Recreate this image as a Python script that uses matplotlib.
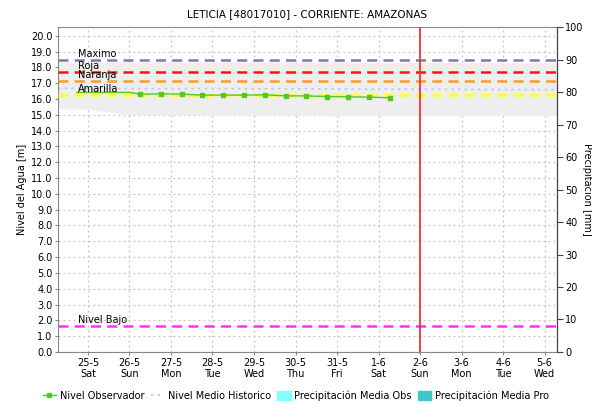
import matplotlib
matplotlib.use('Agg')
import matplotlib.pyplot as plt
from matplotlib.lines import Line2D
from matplotlib.patches import Patch

plt.rcParams['font.family'] = ['DejaVu Sans']
plt.rcParams['font.size'] = 7

# days counted from 25-5
day_labels = ['25-5\nSat', '26-5\nSun', '27-5\nMon', '28-5\nTue', '29-5\nWed', '30-5\nThu',
              '31-5\nFri', '1-6\nSat', '2-6\nSun', '3-6\nMon', '4-6\nTue', '5-6\nWed']
day_pos = list(range(len(day_labels)))

# observed level
obs_t = [-0.27, 0.24, 0.75, 1.01, 1.25, 1.76, 2.27, 2.75, 3.25, 3.76,
         4.27, 4.77, 5.25, 5.76, 6.27, 6.77, 7.28]
obs_v = [16.42, 16.42, 16.42, 16.42, 16.31, 16.33, 16.31, 16.25, 16.25, 16.25,
         16.27, 16.20, 16.20, 16.16, 16.14, 16.12, 16.08]
obs_marked = [4, 5, 6, 7, 8, 9, 10, 11, 12, 13, 14, 15, 16]

# historical range and mean
hist_t = [-0.72, 0.0, 0.7, 1.0, 2, 3, 4, 5, 6, 7, 8, 9, 10, 11.3]
hist_lo = [15.42, 15.35, 15.1, 15.0, 15.0, 14.98, 14.98, 14.98, 14.98, 14.97, 14.97, 14.96, 14.96, 14.96]
hist_hi = [18.35, 18.35, 18.35, 18.35, 18.35, 18.35, 18.35, 18.35, 18.35, 18.33, 18.33, 18.32, 18.3, 18.3]
hist_mean = [16.68, 16.68, 16.67, 16.67, 16.66, 16.66, 16.65, 16.65, 16.64, 16.63, 16.62, 16.61, 16.6, 16.6]

# precipitation (none reported)
precip_obs_t, precip_obs_v = [], []
precip_pro_t, precip_pro_v = [], []

# alert thresholds
thr_names = ['Maximo', 'Roja', 'Naranja', 'Amarilla', 'Nivel Bajo']
thr_values = [18.48, 17.70, 17.13, 16.28, 1.63]
thr_colors = ['#7480A4', '#FF1010', '#FF9A2A', '#FFFF20', '#FF30FF']

today = 8

fig = plt.figure(figsize=(5.92, 4.05), dpi=100)
ax = fig.add_axes([0.098, 0.131, 0.843, 0.802])
ax2 = ax.twinx()

ax.set_xlim(-0.72, 11.3)
ax.set_ylim(0, 20.55)
ax2.set_ylim(0, 100)

ax.fill_between(hist_t, hist_lo, hist_hi, color='#EEEEEE', lw=0, zorder=1)
ax.plot(hist_t, hist_mean, color='#C8C8C8', ls=(0, (1.5, 2.5)), lw=1.2, zorder=2)

ax.set_yticks([i for i in range(21)])
ax.set_yticklabels(['%.1f' % i for i in range(21)])
ax.set_xticks(day_pos)
ax.set_xticklabels(day_labels)
ax.grid(True, color='#C4C4C4', ls=(0, (1.5, 2.5)), lw=0.9)
ax.set_axisbelow(True)

for name, val, col in zip(thr_names, thr_values, thr_colors):
    ax.axhline(val, color=col, ls=(0, (4, 2.5)), lw=1.8, zorder=3)
    ax.text(-0.24, val + 0.05, name, fontsize=7, va='bottom', ha='left', zorder=5)

ax2.bar(precip_obs_t, precip_obs_v, color='#80FFFF', width=0.4)
ax2.bar(precip_pro_t, precip_pro_v, color='#40C8C8', width=0.4)

ax.plot(obs_t, obs_v, color='#55C81E', lw=1.0, marker='s', ms=3,
        markevery=obs_marked, zorder=4)

ax.axvline(today, color='#FF2020', lw=1.2, zorder=6)

for sp in ['left', 'bottom', 'top']:
    ax.spines[sp].set_color('#888888')
ax2.spines['right'].set_color('#444444')
for sp in ['left', 'bottom', 'top']:
    ax2.spines[sp].set_visible(False)
ax.tick_params(axis='both', length=2, color='#888888', pad=2)
ax2.set_yticks(range(0, 101, 10))
ax2.tick_params(axis='y', length=4, color='#444444', pad=2)

ax.set_ylabel('Nivel del Agua [m]', labelpad=3)
ax2.set_ylabel('Precipitacion [mm]', rotation=270, labelpad=6)
ax.set_title('LETICIA [48017010] - CORRIENTE: AMAZONAS', fontsize=7.5, pad=7)

handles = [
    Line2D([], [], color='#55C81E', lw=1.0, marker='s', ms=3),
    Line2D([], [], color='#C8C8C8', ls=(0, (1.5, 2.5)), lw=1.2),
    Patch(color='#80FFFF'),
    Patch(color='#40C8C8'),
]
labels = ['Nivel Observador', 'Nivel Medio Historico',
          'Precipitación Media Obs', 'Precipitación Media Pro']
fig.legend(handles, labels, loc='lower center', bbox_to_anchor=(0.5, -0.012), ncol=4,
           frameon=False, fontsize=7, handlelength=1.4, handletextpad=0.4,
           columnspacing=0.6, handleheight=1.0)

fig.savefig('out.png', dpi=100, facecolor='white')
